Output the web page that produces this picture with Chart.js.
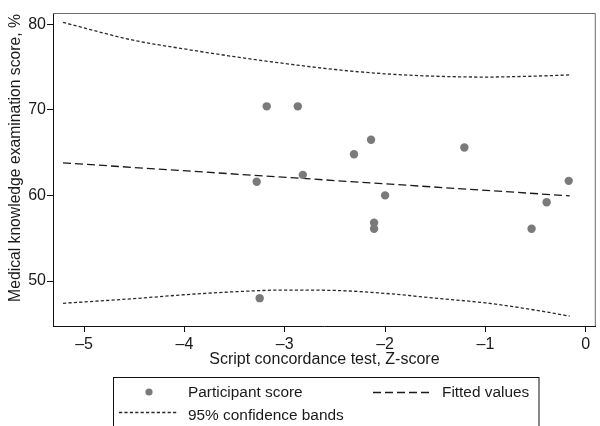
<!DOCTYPE html>
<html>
<head>
<meta charset="utf-8">
<script src="https://cdn.jsdelivr.net/npm/chart.js@4.4.0/dist/chart.umd.min.js"></script>
<style>
  html, body { margin: 0; padding: 0; background: #fff; }
  #wrap { width: 600px; height: 426px; }
</style>
</head>
<body>
<div id="wrap"><canvas id="scoreChart" width="600" height="426"></canvas></div>
<script>
// Participant scores
const scoreX = [-3.18, -2.87, -3.28, -2.82, -2.31, -2.14, -1.21, -2.0, -2.11, -2.11, -0.54, -0.39, -0.17, -3.25];
const scoreY = [70.4, 70.4, 61.6, 62.4, 64.8, 66.5, 65.6, 60.0, 56.8, 56.1, 56.1, 59.2, 61.7, 48.0];

// Fitted line
const fitX = [-5.21, -0.16];
const fitY = [63.8, 59.95];

// 95% confidence bands
const bandX = [-5.21, -4.5, -4, -3.5, -3, -2.5, -2, -1.5, -1, -0.5, -0.16];
const bandUpper = [80.2, 78.1, 77.1, 76.2, 75.4, 74.7, 74.2, 73.92, 73.82, 73.93, 74.07];
const bandLower = [47.4, 47.95, 48.4, 48.75, 48.95, 48.9, 48.56, 48.0, 47.45, 46.6, 45.9];

// Ticks
const xTicks = [-5, -4, -3, -2, -1, 0];
const yTicks = [50, 60, 70, 80];

const FONT = '"Liberation Sans", Arial, sans-serif';
const TEXT = '#1a1a1a';

function pairs(xs, ys) {
    return xs.map((x, i) => ({ x: x, y: ys[i] }));
}

function fmtTick(v) {
    return v < 0 ? '\u2013' + Math.abs(v) : String(v);
}

// Frame, y title and the boxed legend
const decorPlugin = {
    id: 'decor',
    beforeDatasetsDraw(chart) {
        const { ctx, chartArea: a } = chart;
        ctx.save();
        ctx.strokeStyle = '#6a6a6a';
        ctx.lineWidth = 1;
        ctx.beginPath();
        ctx.moveTo(a.left, a.top + 0.5);
        ctx.lineTo(a.right - 0.5, a.top + 0.5);
        ctx.lineTo(a.right - 0.5, a.bottom);
        ctx.stroke();
        ctx.restore();
    },
    afterDraw(chart) {
        const ctx = chart.ctx;
        const ds = chart.data.datasets;
        ctx.save();

        // y axis title
        ctx.fillStyle = TEXT;
        ctx.font = '15.7px ' + FONT;
        ctx.textAlign = 'center';
        ctx.textBaseline = 'middle';
        ctx.translate(16, 158);
        ctx.rotate(-Math.PI / 2);
        ctx.fillText('Medical knowledge examination score, %', 0, 0);
        ctx.setTransform(1, 0, 0, 1, 0, 0);

        // legend box
        ctx.strokeStyle = '#111';
        ctx.lineWidth = 1;
        ctx.strokeRect(113.5, 377.5, 425.5, 60);

        ctx.font = '15.4px ' + FONT;
        ctx.textAlign = 'left';
        ctx.textBaseline = 'middle';

        // participant score
        ctx.fillStyle = ds[0].backgroundColor;
        ctx.beginPath();
        ctx.arc(149, 392, 3.6, 0, Math.PI * 2);
        ctx.fill();
        ctx.fillStyle = TEXT;
        ctx.fillText(ds[0].label, 188, 393);

        // fitted values
        ctx.strokeStyle = ds[1].borderColor;
        ctx.lineWidth = ds[1].borderWidth;
        ctx.setLineDash(ds[1].borderDash);
        ctx.beginPath();
        ctx.moveTo(373, 392.5);
        ctx.lineTo(431, 392.5);
        ctx.stroke();
        ctx.fillText(ds[1].label, 442, 393);

        // confidence bands
        ctx.strokeStyle = ds[2].borderColor;
        ctx.lineWidth = ds[2].borderWidth;
        ctx.setLineDash(ds[2].borderDash);
        ctx.beginPath();
        ctx.moveTo(119, 412.5);
        ctx.lineTo(177, 412.5);
        ctx.stroke();
        ctx.setLineDash([]);
        ctx.fillText(ds[2].label, 188, 416);

        ctx.restore();
    }
};

const ctx = document.getElementById('scoreChart').getContext('2d');
const scoreChart = new Chart(ctx, {
    type: 'scatter',
    data: {
        datasets: [
            {
                label: 'Participant score',
                data: pairs(scoreX, scoreY),
                backgroundColor: '#7a7a7a',
                borderWidth: 0,
                pointRadius: 4.2,
                order: 0
            },
            {
                label: 'Fitted values',
                data: pairs(fitX, fitY),
                showLine: true,
                borderColor: '#1a1a1a',
                borderWidth: 1.3,
                borderDash: [8, 4],
                pointRadius: 0,
                order: 1
            },
            {
                label: '95% confidence bands',
                data: pairs(bandX, bandUpper),
                showLine: true,
                borderColor: '#2a2a2a',
                borderWidth: 1.3,
                borderDash: [3.2, 2.2],
                cubicInterpolationMode: 'monotone',
                pointRadius: 0,
                order: 2
            },
            {
                label: '95% confidence bands (lower)',
                data: pairs(bandX, bandLower),
                showLine: true,
                borderColor: '#2a2a2a',
                borderWidth: 1.3,
                borderDash: [3.2, 2.2],
                cubicInterpolationMode: 'monotone',
                pointRadius: 0,
                order: 2
            }
        ]
    },
    options: {
        responsive: false,
        animation: false,
        layout: { padding: { left: 0, right: 1, top: 13, bottom: 56 } },
        plugins: {
            legend: { display: false },
            tooltip: { enabled: false }
        },
        scales: {
            x: {
                type: 'linear',
                min: -5.31,
                max: 0.1,
                afterFit: (scale) => { scale.height = 44; },
                afterBuildTicks: (scale) => { scale.ticks = xTicks.map(v => ({ value: v })); },
                border: { display: true, color: '#111', width: 1 },
                grid: { drawOnChartArea: false, drawTicks: true, tickLength: 6, color: '#111' },
                ticks: {
                    padding: 3,
                    maxRotation: 0,
                    color: TEXT,
                    font: { family: FONT, size: 16 },
                    callback: fmtTick
                },
                title: {
                    display: true,
                    text: 'Script concordance test, Z-score',
                    color: TEXT,
                    font: { family: FONT, size: 16 },
                    padding: { top: 0, bottom: 1 }
                }
            },
            y: {
                type: 'linear',
                min: 44.75,
                max: 81.3,
                afterFit: (scale) => { scale.width = 53; },
                afterBuildTicks: (scale) => { scale.ticks = yTicks.map(v => ({ value: v })); },
                border: { display: true, color: '#111', width: 1 },
                grid: { drawOnChartArea: false, drawTicks: true, tickLength: 6, color: '#111' },
                ticks: {
                    padding: 1,
                    color: TEXT,
                    font: { family: FONT, size: 16 },
                    callback: fmtTick
                }
            }
        }
    },
    plugins: [decorPlugin]
});
</script>
</body>
</html>
